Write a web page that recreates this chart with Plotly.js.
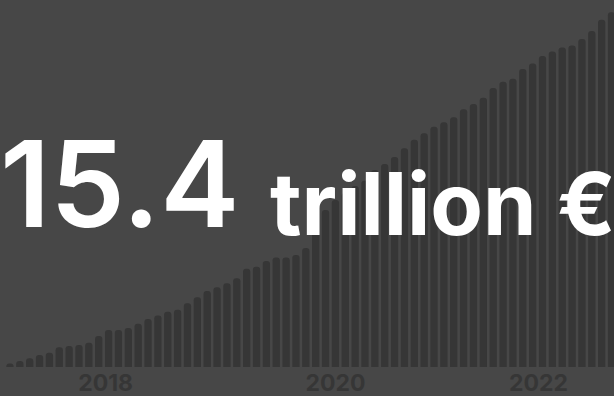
<!DOCTYPE html>
<html>
<head>
<meta charset="utf-8">
<script src="https://cdn.plot.ly/plotly-3.0.1.min.js"></script>
<style>
html,body{margin:0;padding:0;background:#474747;}
#chart{width:614px;height:396px;}
</style>
</head>
<body>
<div id="chart"></div>
<script>
// Cumulative values (trillion €)
const periods = [];
for (let i = 0; i < 62; i++) periods.push(i);
const values = [
  0.15, 0.26, 0.38, 0.52, 0.62, 0.86, 0.91, 0.96, 1.05, 1.35,
  1.61, 1.61, 1.69, 1.88, 2.08, 2.24, 2.40, 2.48, 2.77, 3.03,
  3.30, 3.46, 3.63, 3.85, 4.26, 4.35, 4.60, 4.75, 4.75, 4.86,
  5.17, 5.86, 6.82, 7.25, 7.55, 7.86, 8.08, 8.55, 8.81, 9.11,
  9.50, 9.86, 10.15, 10.43, 10.62, 10.84, 11.19, 11.42, 11.69, 12.11,
  12.38, 12.51, 12.93, 13.17, 13.50, 13.69, 13.87, 13.96, 14.24, 14.58,
  15.07, 15.40
];
const tickPositions = [9.7, 33.0, 53.6];
const tickLabels = ["2018", "2020", "2022"];
const headlineValue = "15.4";
const headlineUnit = "trillion €";

const trace = {
  type: 'bar',
  x: periods,
  y: values,
  marker: {color: '#363636', cornerradius: 4, line: {width: 0}},
  hoverinfo: 'skip'
};

const layout = {
  width: 614,
  height: 396,
  margin: {l: 0, r: 0, t: 0, b: 29, pad: 0},
  paper_bgcolor: '#474747',
  plot_bgcolor: '#474747',
  bargap: 0.26,
  showlegend: false,
  xaxis: {
    range: [-1.01, 61.25],
    tickmode: 'array',
    tickvals: tickPositions,
    ticktext: tickLabels,
    showgrid: false,
    zeroline: false,
    showline: false,
    ticks: '',
    tickfont: {family: 'Inter, sans-serif', size: 23, color: '#363636', weight: 700}
  },
  yaxis: {
    range: [0, 15.93],
    showgrid: false,
    zeroline: false,
    showline: false,
    showticklabels: false,
    ticks: ''
  },
  annotations: [
    {
      text: headlineValue,
      xref: 'paper', yref: 'paper',
      x: -0.003, y: 0.298,
      xanchor: 'left', yanchor: 'bottom',
      showarrow: false,
      font: {family: 'Inter, sans-serif', size: 119, color: '#ffffff', weight: 600}
    },
    {
      text: headlineUnit,
      xref: 'paper', yref: 'paper',
      x: 0.436, y: 0.298,
      xanchor: 'left', yanchor: 'bottom',
      showarrow: false,
      font: {family: 'Inter, sans-serif', size: 86, color: '#ffffff', weight: 700}
    }
  ]
};

Plotly.newPlot('chart', [trace], layout, {staticPlot: true, displayModeBar: false});
</script>
</body>
</html>
